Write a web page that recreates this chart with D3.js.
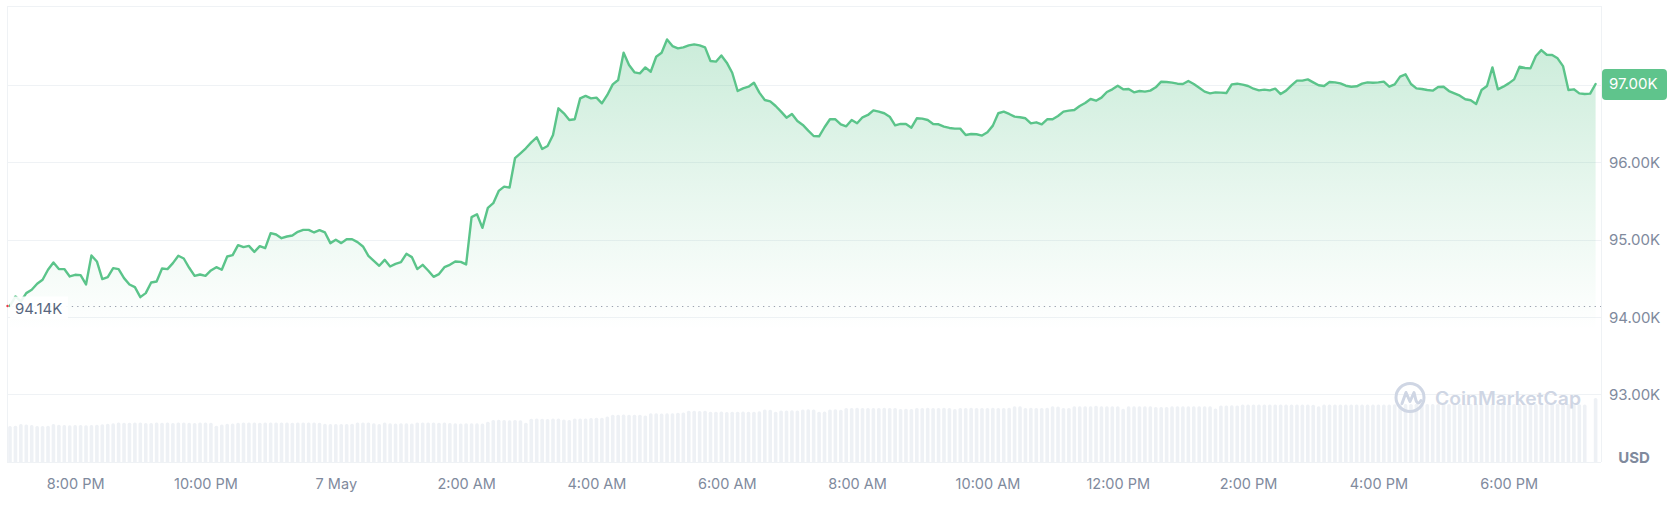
<!DOCTYPE html>
<html><head><meta charset="utf-8">
<script src="https://cdn.jsdelivr.net/npm/d3@7"></script>
<style>
html,body{margin:0;padding:0;background:#fff;}
svg{display:block;font-family:Inter,"Noto Sans",sans-serif;}
</style></head><body>
<svg id="c" width="1676" height="520"></svg>
<script>
// ---------- DATA ----------
const startTime = new Date(2025, 4, 6, 19, 0);   // first 5-minute sample
const stepMinutes = 5;

const prices = [
94140,94263,94198,94306,94349,94427,94479,94608,94703,94617,
94617,94522,94543,94539,94418,94793,94716,94487,94513,94630,
94617,94500,94418,94384,94254,94306,94444,94457,94625,94617,
94694,94789,94754,94634,94530,94547,94530,94599,94642,94608,
94780,94797,94927,94901,94918,94840,94914,94888,95082,95065,
95017,95039,95052,95099,95125,95125,95091,95121,95091,94953,
94996,94953,95004,95004,94966,94910,94789,94724,94660,94737,
94651,94685,94707,94815,94772,94617,94672,94599,94517,94552,
94642,94672,94716,94711,94677,95289,95327,95151,95409,95470,
95629,95685,95672,96052,96116,96181,96258,96323,96172,96211,
96353,96698,96634,96547,96556,96827,96858,96827,96836,96763,
96871,97008,97065,97418,97258,97164,97151,97228,97172,97366,
97418,97590,97504,97474,97487,97513,97526,97513,97487,97310,
97302,97383,97289,97159,96922,96957,96978,97030,96901,96806,
96789,96728,96655,96577,96625,96534,96483,96409,96340,96336,
96453,96556,96556,96491,96465,96547,96504,96582,96612,96672,
96655,96634,96590,96478,96496,96496,96448,96569,96565,96547,
96496,96491,96461,96444,96435,96435,96353,96366,96362,96345,
96388,96474,96634,96655,96625,96590,96582,96569,96504,96517,
96491,96556,96556,96599,96655,96668,96677,96728,96767,96819,
96797,96836,96909,96944,96991,96944,96948,96905,96922,96914,
96927,96970,97043,97039,97030,97017,97013,97052,97013,96965,
96914,96892,96905,96901,96896,97008,97017,97004,96987,96952,
96931,96940,96931,96952,96883,96927,96996,97056,97056,97073,
97034,96996,96987,97039,97034,97021,96991,96978,96983,97017,
97034,97030,97034,97043,96978,97008,97108,97138,97013,96957,
96948,96935,96927,96974,96978,96922,96892,96862,96815,96802,
96754,96935,96987,97228,96944,96978,97021,97073,97237,97220,
97215,97375,97452,97392,97388,97345,97245,96935,96944,96892,
96883,96888,97013
];

// volume, billions USD (0 = no bar)
const volumes = [
25.7,25.9,27.1,26.8,26.4,25.8,25.7,25.9,27.1,
26.6,26.4,26.2,26.4,26.5,26.3,26.4,26.6,
27.0,27.3,27.6,28.3,
28.0,28.1,28.3,28.2,27.8,27.9,28.3,28.1,28.3,27.9,28.2,28.3,28.0,27.9,28.3,28.2,28.0,
25.9,
26.8,27.3,27.5,28.0,
28.3,28.2,28.3,28.1,28.3,28.3,28.2,28.3,28.3,28.1,28.3,28.2,28.3,28.3,28.0,
27.3,27.1,27.1,27.2,27.1,27.4,
28.3,28.2,28.3,
27.6,27.1,28.3,
27.6,27.5,27.7,27.6,27.5,
28.3,28.2,28.3,28.3,28.1,28.3,27.8,
27.6,27.5,27.7,27.6,27.6,27.5,28.8,
30.0,30.1,30.0,29.8,30.0,29.9,
28.1,
30.9,31.0,30.9,30.8,31.0,31.0,30.4,30.0,
31.0,31.0,31.1,31.4,31.6,31.6,32.5,
33.8,33.8,33.9,33.7,33.8,33.8,33.2,
34.8,34.8,34.6,34.8,34.9,35.2,35.4,
36.6,36.6,36.5,36.6,
35.9,35.9,36.0,35.8,35.9,35.9,36.0,35.9,35.9,36.2,
37.5,37.3,
35.9,
36.8,36.8,36.9,36.8,
37.5,37.6,37.5,
35.9,36.0,
37.5,37.6,37.4,
38.6,38.6,38.7,38.6,38.6,38.5,38.6,38.7,38.6,38.6,
37.9,38.0,37.9,
38.6,38.6,38.7,38.6,38.6,38.7,38.6,
37.8,
38.6,38.6,38.7,38.6,38.6,38.6,38.7,38.6,38.6,38.7,
39.8,39.8,
38.6,38.7,38.6,38.6,38.7,
39.8,39.7,
38.6,38.6,
39.8,39.8,39.9,39.8,40.1,39.8,39.8,39.8,39.8,
38.0,
39.8,39.8,39.9,39.8,39.8,
39.3,39.2,39.3,
39.8,39.9,39.8,39.8,39.9,39.8,39.8,39.8,
38.3,
40.4,40.4,40.5,40.4,
41.0,41.0,41.1,41.0,41.0,41.0,41.1,41.0,41.0,41.0,41.1,41.0,41.0,40.9,
39.8,
41.0,41.0,41.1,41.0,41.0,41.0,41.1,41.0,41.0,41.0,41.1,41.0,41.0,41.2,
41.5,41.4,41.5,41.6,41.5,41.5,41.4,41.5,41.6,41.5,41.5,41.4,41.5,41.5,41.6,41.5,41.4,
41.5,41.5,41.6,41.5,41.4,41.5,41.5,41.6,41.5,41.5,41.4,41.5,41.6,41.5,41.5,41.4,41.3,
41.0,
0,
45.7
];

const yTicks = [93000, 94000, 95000, 96000, 97000];
const yTickLabels = ["93.00K", "94.00K", "95.00K", "96.00K", "97.00K"];
const xTickTimes = [
  new Date(2025,4,6,20), new Date(2025,4,6,22), new Date(2025,4,7,0),
  new Date(2025,4,7,2), new Date(2025,4,7,4), new Date(2025,4,7,6),
  new Date(2025,4,7,8), new Date(2025,4,7,10), new Date(2025,4,7,12),
  new Date(2025,4,7,14), new Date(2025,4,7,16), new Date(2025,4,7,18)
];
const xTickLabels = ["8:00 PM","10:00 PM","7 May","2:00 AM","4:00 AM","6:00 AM",
                     "8:00 AM","10:00 AM","12:00 PM","2:00 PM","4:00 PM","6:00 PM"];
const openPrice = 94140, openLabel = "94.14K";
const lastLabel = "97.00K";
const currencyLabel = "USD";
const watermarkText = "CoinMarketCap";

// ---------- CHART ----------
const data = prices.map((p, i) => ({
  t: new Date(startTime.getTime() + i * stepMinutes * 60000),
  p: p,
  v: volumes[i] || 0
}));

const L = 7, R = 1601, T = 6, B = 462;
const svg = d3.select("#c");
const x = d3.scaleTime().domain([data[0].t, data[data.length-1].t]).range([10, 1595.6]);
const y = d3.scaleLinear().domain([93000, 97000]).range([394, 85]);
const yVol = d3.scaleLinear().domain([0, 40]).range([B, 406]);

const grid = "#eff2f5";
const green = "#5bc48a";
const labelCol = "#808a9d";

// defs
const defs = svg.append("defs");
const grad = defs.append("linearGradient").attr("id","areaGrad")
  .attr("gradientUnits","userSpaceOnUse").attr("x1",0).attr("x2",0).attr("y1",30).attr("y2",330);
grad.append("stop").attr("offset","0%").attr("stop-color",green).attr("stop-opacity",0.33);
grad.append("stop").attr("offset","55%").attr("stop-color",green).attr("stop-opacity",0.14);
grad.append("stop").attr("offset","100%").attr("stop-color",green).attr("stop-opacity",0.0);

// frame + gridlines
svg.append("line").attr("x1",L).attr("x2",R).attr("y1",T+0.5).attr("y2",T+0.5).attr("stroke",grid);
svg.append("line").attr("x1",L+0.5).attr("x2",L+0.5).attr("y1",T).attr("y2",B).attr("stroke",grid);
svg.append("line").attr("x1",R+0.5).attr("x2",R+0.5).attr("y1",T).attr("y2",B).attr("stroke",grid);
svg.append("line").attr("x1",L).attr("x2",R).attr("y1",B+0.5).attr("y2",B+0.5).attr("stroke",grid);

svg.append("g").selectAll("line").data(yTicks).join("line")
  .attr("x1",L).attr("x2",R)
  .attr("y1",d=>Math.round(y(d))+0.5).attr("y2",d=>Math.round(y(d))+0.5)
  .attr("stroke",grid).attr("stroke-width",1.2);

// volume bars
const bw = 3.6, r = 1.6;
svg.append("g").selectAll("path").data(data.filter(d=>d.v>0)).join("path")
  .attr("fill","#eef1f5")
  .attr("d", d => {
    const cx = x(d.t), x0 = cx - bw/2, x1 = cx + bw/2, yt = yVol(d.v);
    return `M${x0},${B} L${x0},${yt+r} Q${x0},${yt} ${x0+r},${yt} L${x1-r},${yt} Q${x1},${yt} ${x1},${yt+r} L${x1},${B} Z`;
  });

// watermark
const wm = svg.append("g").attr("transform","translate(1410,397.5)");
wm.append("circle").attr("r",14).attr("fill","none").attr("stroke","#cfd6e4").attr("stroke-width",3);
wm.append("path").attr("d","M-8,6 L-4,-5 L0,4 L4,-5 L6,3 Q8,8 11,3")
  .attr("fill","none").attr("stroke","#cfd6e4").attr("stroke-width",3)
  .attr("stroke-linecap","round").attr("stroke-linejoin","round");
svg.append("text").text(watermarkText).attr("x",1435).attr("y",400)
  .attr("dominant-baseline","middle").attr("font-size",18).attr("font-weight",600)
  .attr("fill","#cfd6e4").attr("textLength",146).attr("lengthAdjust","spacingAndGlyphs");

// area + line
svg.append("path").datum(data)
  .attr("fill","url(#areaGrad)")
  .attr("d", d3.area().x(d=>x(d.t)).y0(340).y1(d=>y(d.p)));
svg.append("path").datum(data)
  .attr("fill","none").attr("stroke",green).attr("stroke-width",2.4)
  .attr("stroke-linejoin","round").attr("stroke-linecap","round")
  .attr("d", d3.line().x(d=>x(d.t)).y(d=>y(d.p)));

// open price dotted reference
const yo = Math.round(y(openPrice)) + 0.5;
svg.append("line").attr("x1",L).attr("x2",R).attr("y1",yo).attr("y2",yo)
  .attr("stroke","#9aa1ae").attr("stroke-width",1.2).attr("stroke-dasharray","1.3 4.1");
svg.append("rect").attr("x",10).attr("y",yo-10).attr("width",58).attr("height",23)
  .attr("fill","#fff").attr("fill-opacity",0.9);
svg.append("circle").attr("cx",7.5).attr("cy",yo-0.5).attr("r",1.2).attr("fill","#ea3943");
svg.append("text").text(openLabel).attr("x",15).attr("y",yo+3)
  .attr("dominant-baseline","middle").attr("font-size",15).attr("fill","#58667e");

// y axis labels
const yAxis = d3.axisRight(y).tickValues(yTicks).tickSize(0).tickPadding(0)
  .tickFormat((d,i)=>yTickLabels[i]);
const gy = svg.append("g").attr("transform",`translate(1609,0)`).call(yAxis);
gy.select(".domain").remove();
gy.selectAll("text").attr("font-size",15).attr("fill",labelCol).attr("font-family","Inter,'Noto Sans',sans-serif")
  .attr("dy","0.35em").attr("x",0).attr("text-anchor","start");

// x axis labels
const xAxis = d3.axisBottom(x).tickValues(xTickTimes).tickSize(0).tickPadding(0)
  .tickFormat((d,i)=>xTickLabels[i]);
const gx = svg.append("g").attr("transform",`translate(0,484)`).call(xAxis);
gx.select(".domain").remove();
gx.selectAll("text").attr("font-size",14.5).attr("fill",labelCol).attr("font-family","Inter,'Noto Sans',sans-serif")
  .attr("dy","0.35em").attr("y",0);

// USD
svg.append("text").text(currencyLabel).attr("x",1634).attr("y",459)
  .attr("text-anchor","middle").attr("dominant-baseline","middle")
  .attr("font-size",15).attr("font-weight",700).attr("fill",labelCol);

// last price badge
const yl = y(prices[prices.length-1]);
svg.append("rect").attr("x",1602).attr("y",yl-15).attr("width",65).attr("height",31).attr("rx",4)
  .attr("fill","#5fc48c");
svg.append("text").text(lastLabel).attr("x",1609).attr("y",yl+1)
  .attr("dominant-baseline","middle").attr("font-size",15).attr("fill","#fff");
</script>
</body></html>
